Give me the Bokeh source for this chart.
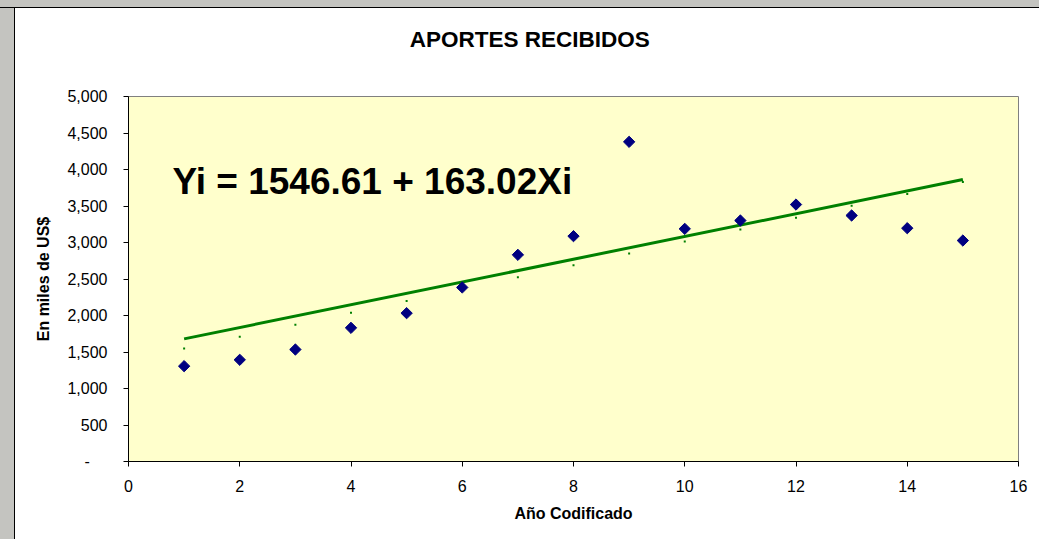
from bokeh.plotting import figure
from bokeh.models import (Range1d, FixedTicker, NumeralTickFormatter, Label, ColumnDataSource,
                          Div, LinearAxis)
from bokeh.layouts import row, column
from bokeh.embed import file_html
from bokeh.resources import INLINE
import numpy as np

# ---- data ----
years = [1, 2, 3, 4, 5, 6, 7, 8, 9, 10, 11, 12, 13, 14, 15]
aportes = [1306, 1393, 1534, 1831, 2032, 2384, 2831, 3087, 4379, 3187, 3301, 3520, 3370, 3196, 3027]
fitted = [1547, 1710, 1873, 2036, 2199, 2362, 2525, 2688, 2851, 3014, 3177, 3340, 3503, 3666, 3829]
trend_x = [1, 15]
trend_y = [1680, 3862]
x_ticks = [0, 2, 4, 6, 8, 10, 12, 14, 16]
y_ticks = [0, 500, 1000, 1500, 2000, 2500, 3000, 3500, 4000, 4500, 5000]
title_text = "APORTES RECIBIDOS"
equation_text = "Yi = 1546.61 + 163.02Xi"
x_label = "Año Codificado"
y_label = "En miles de US$"

FONT = "Liberation Sans"
GRAY = "#c4c4c0"

p = figure(width=1024, height=531, output_backend="svg", toolbar_location=None,
           x_range=Range1d(0, 16), y_range=Range1d(0, 5000),
           min_border_left=113, min_border_right=21, min_border_top=88, min_border_bottom=78)

p.background_fill_color = "#FFFFCC"
p.border_fill_color = "white"
p.outline_line_color = "#808080"
p.outline_line_width = 1
p.grid.visible = False

for ax in (p.xaxis[0], p.yaxis[0]):
    ax.axis_line_color = "black"
    ax.axis_line_width = 1
    ax.major_tick_line_color = "black"
    ax.major_tick_out = 5
    ax.major_tick_in = 0
    ax.minor_tick_line_color = None
    ax.major_label_text_font = FONT
    ax.major_label_text_font_size = "16px"
    ax.major_label_text_color = "black"
    ax.axis_label_text_font = FONT
    ax.axis_label_text_font_size = "16px"
    ax.axis_label_text_font_style = "bold"
    ax.axis_label_text_color = "black"

p.xaxis.ticker = FixedTicker(ticks=x_ticks)
p.xaxis.axis_label = x_label
p.xaxis.major_label_standoff = 13
p.xaxis.axis_label_standoff = 10

p.yaxis.ticker = FixedTicker(ticks=y_ticks)
p.yaxis.formatter = NumeralTickFormatter(format="0,0")
p.yaxis.major_label_overrides = {0: "-\u00a0\u00a0\u00a0\u00a0"}
p.yaxis.axis_label = y_label
p.yaxis.major_label_standoff = 16
p.yaxis.axis_label_standoff = 12

# Chart title carried by a tick-less axis above the plot area
title_axis = LinearAxis(ticker=FixedTicker(ticks=[]), axis_line_color=None,
                        major_tick_line_color=None, minor_tick_line_color=None,
                        major_tick_out=0, major_tick_in=0, minor_tick_out=0, minor_tick_in=0,
                        major_label_standoff=0, major_label_text_color=None,
                        axis_label=title_text + "\u00a0" * 14,
                        axis_label_standoff=45,
                        axis_label_text_font=FONT, axis_label_text_font_size="22.5px",
                        axis_label_text_font_style="bold", axis_label_text_color="black")
p.add_layout(title_axis, "above")

src = ColumnDataSource(dict(x=years, y=aportes, f=fitted))

p.line(trend_x, trend_y, line_color="#008000", line_width=3)
p.scatter("x", "f", source=src, marker="square", size=2, fill_color="#008000", line_color=None)
p.scatter("x", "y", source=src, marker="square", angle=np.pi / 4, size=8,
          fill_color="#000080", line_color="#000080", line_width=1)

# Regression equation
p.add_layout(Label(x=0.79, y=3834, text=equation_text, text_font=FONT, text_font_size="37px",
                   text_font_style="bold", text_color="black", text_baseline="alphabetic"))

top_strip = Div(text="", width=1039, height=8, margin=0,
                styles={"background": f"linear-gradient(to bottom, {GRAY} 7px, #000000 7px)"})
left_strip = Div(text="", width=15, height=531, margin=0,
                 styles={"background": f"linear-gradient(to right, {GRAY} 14px, #000000 14px)"})

layout = column(top_strip, row(left_strip, p, spacing=0), spacing=0)

open("out.html", "w").write(file_html(layout, INLINE))
